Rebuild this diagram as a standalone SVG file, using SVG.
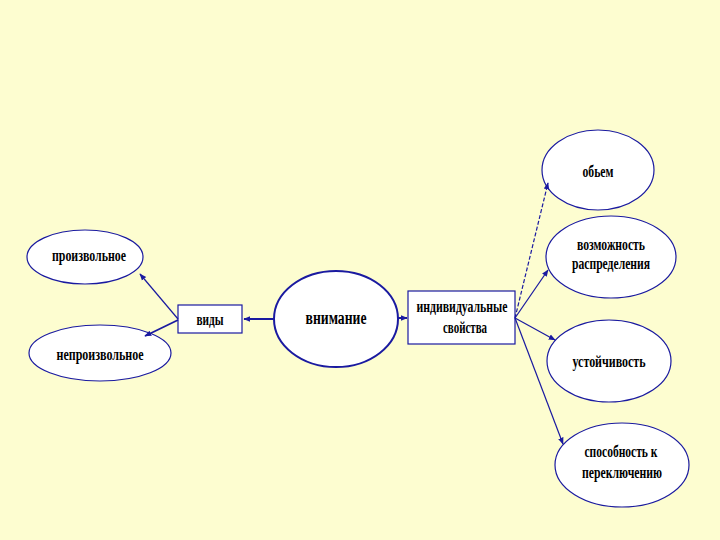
<svg xmlns="http://www.w3.org/2000/svg" width="720" height="540" viewBox="0 0 720 540">
<defs>
<marker id="ah" viewBox="0 0 10 10" refX="9" refY="5" markerWidth="7" markerHeight="7" orient="auto" markerUnits="userSpaceOnUse"><path d="M0,1 L10,5 L0,9 Z" fill="#1a1aa0"/></marker>
<style>
.n{fill:#ffffff;stroke:#1a1aa0;stroke-width:1.2}
.b{stroke-width:2}
.t{font-family:"Liberation Serif",serif;font-weight:bold;font-size:16px;fill:#000;text-anchor:middle}
.c{stroke:#1a1aa0;stroke-width:1.2;fill:none;marker-end:url(#ah)}
</style>
</defs>
<rect width="720" height="540" fill="#fdfdd0"/>
<g id="proizv"><ellipse class="n" cx="85" cy="257" rx="58" ry="27"/><text class="t" x="89" y="261" textLength="74" lengthAdjust="spacingAndGlyphs">произвольное</text></g>
<g id="neproizv"><ellipse class="n" cx="100" cy="353" rx="71" ry="28"/><text class="t" x="100" y="360" textLength="87" lengthAdjust="spacingAndGlyphs">непроизвольное</text></g>
<g id="vidy"><rect class="n" x="178" y="305" width="64" height="28"/><text class="t" x="210" y="325" textLength="27" lengthAdjust="spacingAndGlyphs">виды</text></g>
<g id="vnimanie"><ellipse class="n b" cx="336" cy="319" rx="62" ry="48"/><text class="t" x="336" y="324" textLength="61" lengthAdjust="spacingAndGlyphs" style="font-size:18px">внимание</text></g>
<g id="svoistva"><rect class="n" x="408" y="291" width="107" height="53"/><text class="t" x="462" y="312" textLength="91" lengthAdjust="spacingAndGlyphs">индивидуальные</text><text class="t" x="465" y="333" textLength="44" lengthAdjust="spacingAndGlyphs">свойства</text></g>
<g id="obem"><ellipse class="n" cx="598" cy="170" rx="56" ry="40"/><text class="t" x="598" y="177" textLength="31" lengthAdjust="spacingAndGlyphs">обьем</text></g>
<g id="raspr"><ellipse class="n" cx="611" cy="257" rx="65" ry="41"/><text class="t" x="611" y="250" textLength="68" lengthAdjust="spacingAndGlyphs">возможность</text><text class="t" x="611" y="269" textLength="78" lengthAdjust="spacingAndGlyphs">распределения</text></g>
<g id="ustoich"><ellipse class="n" cx="609" cy="361" rx="62" ry="41"/><text class="t" x="609" y="367" textLength="73" lengthAdjust="spacingAndGlyphs">устойчивость</text></g>
<g id="perekl"><ellipse class="n" cx="622" cy="465" rx="67" ry="42"/><text class="t" x="621" y="457" textLength="73" lengthAdjust="spacingAndGlyphs">способность к</text><text class="t" x="622" y="478" textLength="80" lengthAdjust="spacingAndGlyphs">переключению</text></g>
<g id="connectors">
<line class="c" x1="178" y1="319" x2="140" y2="274"/>
<line class="c" x1="178" y1="320" x2="145" y2="336" style="stroke-width:1.8"/>
<line class="c" x1="275" y1="319" x2="244" y2="319" style="stroke-width:2"/>
<line class="c" x1="398" y1="318" x2="407" y2="318" style="stroke-width:2"/>
<line class="c" x1="515" y1="318" x2="548" y2="183" stroke-dasharray="4,2"/>
<line class="c" x1="515" y1="318" x2="548" y2="270"/>
<line class="c" x1="515" y1="318" x2="555" y2="340"/>
<line class="c" x1="515" y1="318" x2="563" y2="444"/>
</g>
</svg>
